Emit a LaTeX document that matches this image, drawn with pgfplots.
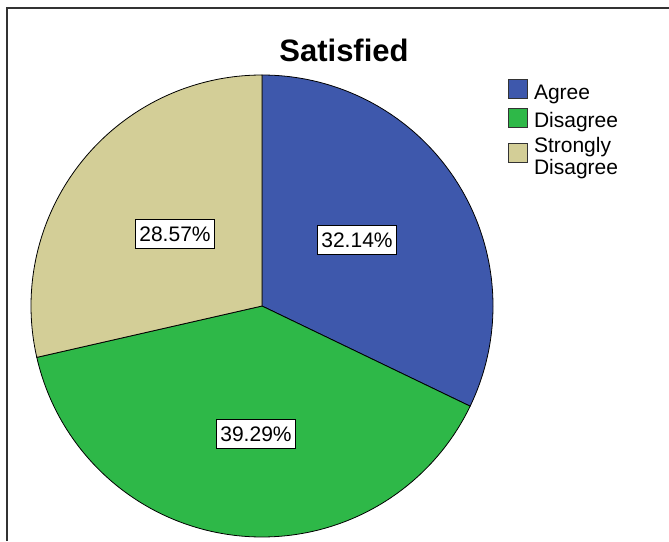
\documentclass[border=0pt]{standalone}
\usepackage{pgfplots}
\pgfplotsset{compat=1.18}
\usepackage{fontspec}
\setmainfont{Liberation Sans}
\definecolor{agree}{HTML}{3E58AC}
\definecolor{disagree}{HTML}{2EB848}
\definecolor{sdis}{HTML}{D3CE97}
\begin{document}
\begin{tikzpicture}
% percentages of the three categories
\pgfmathsetmacro{\vA}{32.14}
\pgfmathsetmacro{\vB}{39.29}
\pgfmathsetmacro{\vC}{28.57}
\pgfmathsetmacro{\aA}{90}
\pgfmathsetmacro{\aB}{90-3.6*\vA}
\pgfmathsetmacro{\aC}{\aB-3.6*\vB}
\pgfmathsetmacro{\aD}{\aC-3.6*\vC}
\def\cx{262}\def\cy{235}\def\prad{231}
\begin{axis}[scale only axis, width=669pt, height=541pt,
  xmin=0, xmax=669, ymin=0, ymax=541, hide axis, clip=false,
  legend style={at={(axis cs:505,464)}, anchor=north west, draw=none, fill=none,
    font=\fontsize{21}{22}\selectfont, nodes={align=left, inner sep=1pt}, row sep=6pt,
    /tikz/every odd column/.append style={column sep=5pt}},
  legend cell align=left]
\pgfplotsset{every axis plot/.append style={legend image code/.code={\draw[#1, draw=black!80, line width=0.8pt] (0pt,-6pt) rectangle (19pt,13pt);}}}
\addplot[fill=agree, draw=black, line width=0.8pt, domain=\aB:\aA, samples=150]
  ({\cx+\prad*cos(x)},{\cy+\prad*sin(x)}) -- (axis cs:\cx,\cy) -- cycle;
\addlegendentry{Agree}
\addplot[fill=disagree, draw=black, line width=0.8pt, domain=\aC:\aB, samples=150]
  ({\cx+\prad*cos(x)},{\cy+\prad*sin(x)}) -- (axis cs:\cx,\cy) -- cycle;
\addlegendentry{Disagree}
\addplot[fill=sdis, draw=black, line width=0.8pt, domain=\aD:\aC, samples=150]
  ({\cx+\prad*cos(x)},{\cy+\prad*sin(x)}) -- (axis cs:\cx,\cy) -- cycle;
\addlegendentry{Strongly\\Disagree}
% value labels
\tikzset{vlab/.style={draw=black, line width=1pt, fill=white, inner xsep=3.5pt, inner ysep=7pt,
  font=\fontsize{21}{22}\selectfont}}
\node[vlab] at (axis cs:357,301) {32.14\%};
\node[vlab] at (axis cs:256,107) {39.29\%};
\node[vlab] at (axis cs:175,307) {28.57\%};
% title
\node[font=\bfseries\fontsize{31}{32}\selectfont] at (axis cs:344,491) {Satisfied};
% outer frame
\draw[line width=2pt, black!80] (axis cs:7,0) -- (axis cs:7,533) -- (axis cs:669,533);
\end{axis}
\pgfresetboundingbox
\path (0,0) rectangle (669pt,541pt);
\end{tikzpicture}
\end{document}
